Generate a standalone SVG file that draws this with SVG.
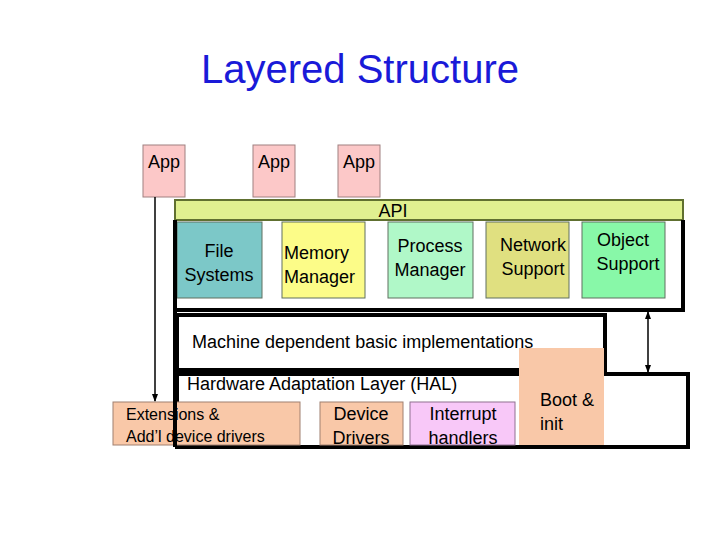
<svg xmlns="http://www.w3.org/2000/svg" width="720" height="540" viewBox="0 0 720 540">
<style>
text{font-family:"Liberation Sans",Arial,sans-serif;fill:#000}
.t{font-size:18px}
.app{fill:#fcc8c8;stroke:#a08080;stroke-width:1}
.peach{fill:#f9c8a8;stroke:#a08070;stroke-width:1}
.frame{fill:none;stroke:#000;stroke-width:4}
.box{stroke:#607060;stroke-width:1}
</style>
<defs>
<marker id="ah" markerWidth="8" markerHeight="8" refX="7" refY="4" orient="auto-start-reverse" markerUnits="userSpaceOnUse"><path d="M0,1 L8,4 L0,7z" fill="#000"/></marker>
</defs>
<rect width="720" height="540" fill="#fff"/>
<text x="360" y="83" font-size="40" fill="#1010d0" text-anchor="middle" style="fill:#1a1ad8">Layered Structure</text>
<g id="app1"><rect class="app" x="143" y="145" width="42" height="52"/><text class="t" x="148" y="168">App</text></g>
<g id="app2"><rect class="app" x="253" y="145" width="42" height="52"/><text class="t" x="258" y="168">App</text></g>
<g id="app3"><rect class="app" x="338" y="145" width="42" height="52"/><text class="t" x="343" y="168">App</text></g>
<g id="api"><rect x="175" y="200" width="508" height="20" fill="#e0f090" stroke="#607030" stroke-width="2"/><text class="t" x="393" y="217" text-anchor="middle" font-size="17">API</text></g>
<g id="kernel"><path class="frame" d="M175,220 V310 H683 V220"/></g>
<g id="fs"><rect class="box" x="177" y="222" width="85" height="76" fill="#7cc8c8"/><text class="t" x="219" y="257" text-anchor="middle">File</text><text class="t" x="219" y="281" text-anchor="middle">Systems</text></g>
<g id="mem"><rect class="box" x="282" y="222" width="83" height="76" fill="#fcfc88"/><text class="t" x="284" y="259">Memory</text><text class="t" x="284" y="283">Manager</text></g>
<g id="proc"><rect class="box" x="388" y="222" width="85" height="76" fill="#b0f8c8"/><text class="t" x="430" y="252" text-anchor="middle">Process</text><text class="t" x="430" y="276" text-anchor="middle">Manager</text></g>
<g id="net"><rect class="box" x="486" y="222" width="83" height="76" fill="#e0e080"/><text class="t" x="533" y="251" text-anchor="middle">Network</text><text class="t" x="533" y="275" text-anchor="middle">Support</text></g>
<g id="obj"><rect class="box" x="582" y="222" width="83" height="76" fill="#88f8a8"/><text class="t" x="623" y="246" text-anchor="middle">Object</text><text class="t" x="628" y="270" text-anchor="middle">Support</text></g>
<g id="machine"><rect class="frame" x="177" y="315" width="428" height="55"/><text class="t" x="192" y="348" font-size="17">Machine dependent basic implementations</text></g>
<g id="hal"><rect class="frame" x="177" y="374" width="511" height="73"/><text class="t" x="187" y="390">Hardware Adaptation Layer (HAL)</text></g>
<g id="boot"><rect fill="#f9c8a8" x="519" y="348" width="85" height="97"/><text class="t" x="540" y="406">Boot &amp;</text><text class="t" x="540" y="430">init</text></g>
<g id="ext"><rect class="peach" x="113" y="402" width="187" height="43"/><text x="126" y="420" font-size="16">Extensions &amp;</text><text x="126" y="442" font-size="16">Add’l device drivers</text></g>
<g id="dev"><rect class="peach" x="320" y="402" width="83" height="43"/><text class="t" x="361" y="420" text-anchor="middle">Device</text><text class="t" x="361" y="444" text-anchor="middle">Drivers</text></g>
<g id="int"><rect x="410" y="402" width="105" height="43" fill="#f8c8f8" stroke="#907090"/><text class="t" x="463" y="420" text-anchor="middle">Interrupt</text><text class="t" x="463" y="444" text-anchor="middle">handlers</text></g>
<g id="connectors" stroke="#000" stroke-width="1.5" fill="none">
<line x1="155" y1="197" x2="155" y2="401" marker-end="url(#ah)"/>
<line x1="175" y1="220" x2="175" y2="447" stroke-width="4"/>
<line x1="648" y1="312" x2="648" y2="372" marker-start="url(#ah)" marker-end="url(#ah)"/>
</g>
</svg>
